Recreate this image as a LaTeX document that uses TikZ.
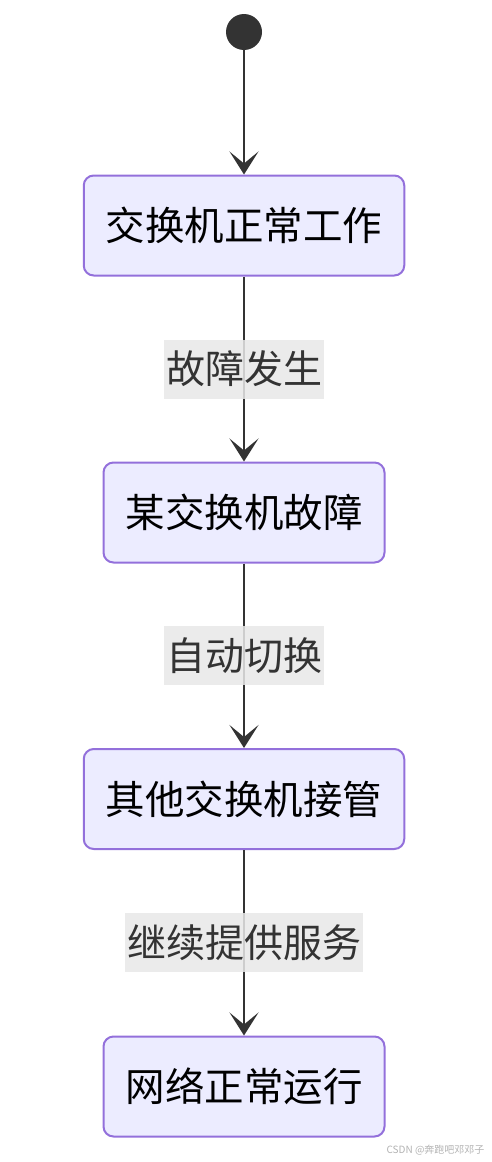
\documentclass[tikz,border=0pt]{standalone}
\usepackage{fontspec}
\setmainfont{Noto Sans CJK SC}
\usetikzlibrary{arrows.meta}
\definecolor{boxfill}{HTML}{ECECFF}
\definecolor{boxline}{HTML}{9370DB}
\definecolor{edgeline}{HTML}{333333}
\definecolor{labelfill}{HTML}{E8E8E8}
\begin{document}
\begin{tikzpicture}[x=1pt, y=1pt,
    state/.style={rectangle, rounded corners=10pt, draw=boxline, line width=2pt, fill=boxfill,
        inner xsep=22pt, minimum height=100pt, text=black, font=\fontsize{39.5pt}{44pt}\selectfont},
    trans/.style={fill=labelfill, fill opacity=0.85, text opacity=1, text=edgeline, inner xsep=2pt,
        minimum height=59pt, font=\fontsize{39pt}{44pt}\selectfont},
    flow/.style={draw=edgeline, line width=2pt, -{Stealth[length=23pt, width=29pt, inset=12pt]}}]
    \useasboundingbox (0,0) rectangle (492,-1162);
    \node[circle, fill=edgeline, minimum size=36pt, inner sep=0pt] (start) at (244,-32) {};
    \node[state] (normal) at (244,-225.5) {交换机正常工作};
    \node[state] (fault) at (244,-512.5) {某交换机故障};
    \node[state] (takeover) at (244,-799) {其他交换机接管};
    \node[state] (network) at (244,-1086.5) {网络正常运行};
    % transitions
    \draw[flow] (start) -- (normal);
    \draw[flow] (normal) -- node[trans] {故障发生} (fault);
    \draw[flow] (fault) -- node[trans] {自动切换} (takeover);
    \draw[flow] (takeover) -- node[trans] {继续提供服务} (network);
    \node[text=gray!60, font=\fontsize{10pt}{12pt}\selectfont, anchor=east] (mark) at (488,-1150) {CSDN @奔跑吧邓邓子};
\end{tikzpicture}
\end{document}
